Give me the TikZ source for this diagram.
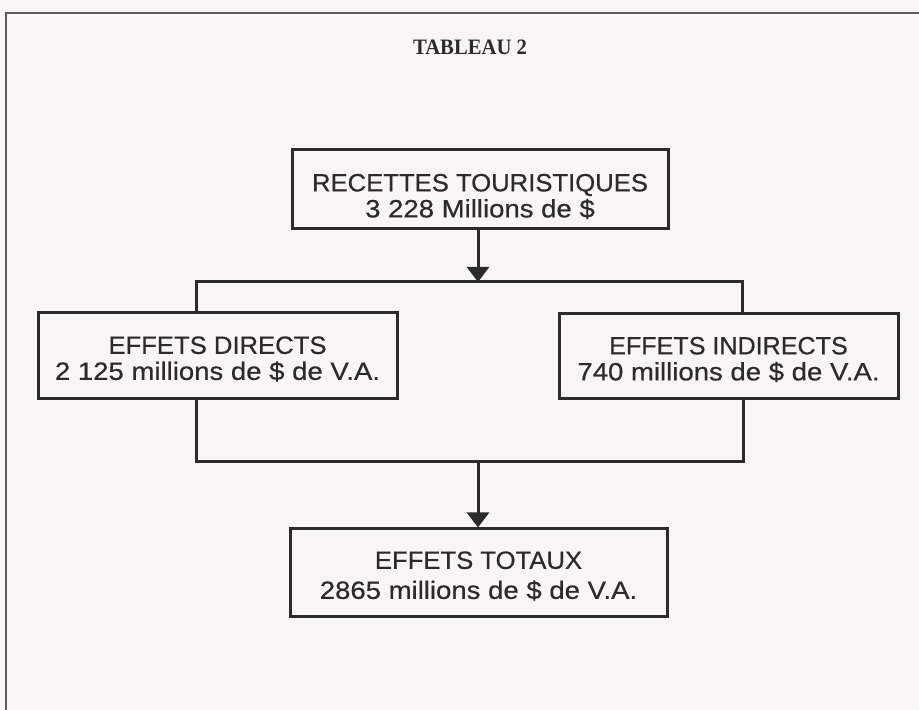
\documentclass[tikz,border=0pt]{standalone}
\usepackage{fontspec}
\setmainfont{Liberation Sans}
\newfontfamily\boxfont[FakeStretch=1.08,FakeBold=0.5]{Liberation Sans}
\newfontfamily\titlefont{Liberation Serif}
\usetikzlibrary{arrows.meta}
\definecolor{ink}{HTML}{2B2B2B}
\definecolor{paper}{HTML}{F7F6F2}
\definecolor{framecol}{HTML}{5A5A5A}
\newcommand{\capline}[1]{\scalebox{0.95}[1]{#1}}
\newcommand{\lowline}[1]{\scalebox{1.02}[1]{#1}}
\begin{document}
\begin{tikzpicture}[x=1pt,y=1pt,
  boxnode/.style={draw=ink, line width=3pt, inner sep=0pt},
  boxtext/.style={inner sep=0pt, align=center, text=ink,
    font=\boxfont\fontsize{25}{26}\selectfont},
  link/.style={draw=ink, line width=3pt},
  arrowlink/.style={link, -{Triangle[width=22pt,length=15pt]}},
  framestyle/.style={draw=framecol, line width=1.6pt}
]
\fill[paper] (0,0) rectangle (919,710);
\useasboundingbox (0,0) rectangle (919,710);
\draw[framestyle] (6,0) -- (6,697) -- (919,697);

\node[font=\titlefont\bfseries\fontsize{22}{24}\selectfont, text=ink, anchor=base] (title) at (470,655) {\scalebox{0.94}[1]{TABLEAU 2}};

\node[boxnode, minimum width=376pt, minimum height=79pt] (top) at (480,520.5) {};
\node[boxnode, minimum width=359pt, minimum height=86pt] (left) at (217.5,354) {};
\node[boxnode, minimum width=339pt, minimum height=85pt] (right) at (728.5,353.5) {};
\node[boxnode, minimum width=377pt, minimum height=88pt] (bottom) at (478.5,137) {};

\node[boxtext] (toptext) at ([yshift=-7pt]top.center)
  {\capline{RECETTES TOURISTIQUES}\\\lowline{3 228 Millions de \$}};
\node[boxtext] (lefttext) at ([yshift=-3pt]left.center)
  {\capline{EFFETS DIRECTS}\\\lowline{2 125 millions de \$ de V.A.}};
\node[boxtext] (righttext) at ([yshift=-3pt]right.center)
  {\scalebox{0.93}[1]{EFFETS INDIRECTS}\\\lowline{740 millions de \$ de V.A.}};
\node[boxtext, font=\boxfont\fontsize{25}{30}\selectfont] (bottomtext) at ([yshift=-3pt]bottom.center)
  {\capline{EFFETS TOTAUX}\\\lowline{2865 millions de \$ de V.A.}};

\coordinate (j1) at (478,428);
\coordinate (jl) at (196,428);
\coordinate (jr) at (742,428);
\coordinate (j2) at (478,248);
\coordinate (kl) at (196,248);
\coordinate (kr) at (743,248);

\draw[arrowlink] (j1 |- top.south) -- (j1);
\draw[link] (jl |- left.north) -- (jl) -- (jr) -- (jr |- right.north);
\draw[link] (kl |- left.south) -- (kl) -- (kr) -- (kr |- right.south);
\draw[arrowlink] (j2) -- (j2 |- bottom.north);
\end{tikzpicture}
\end{document}
